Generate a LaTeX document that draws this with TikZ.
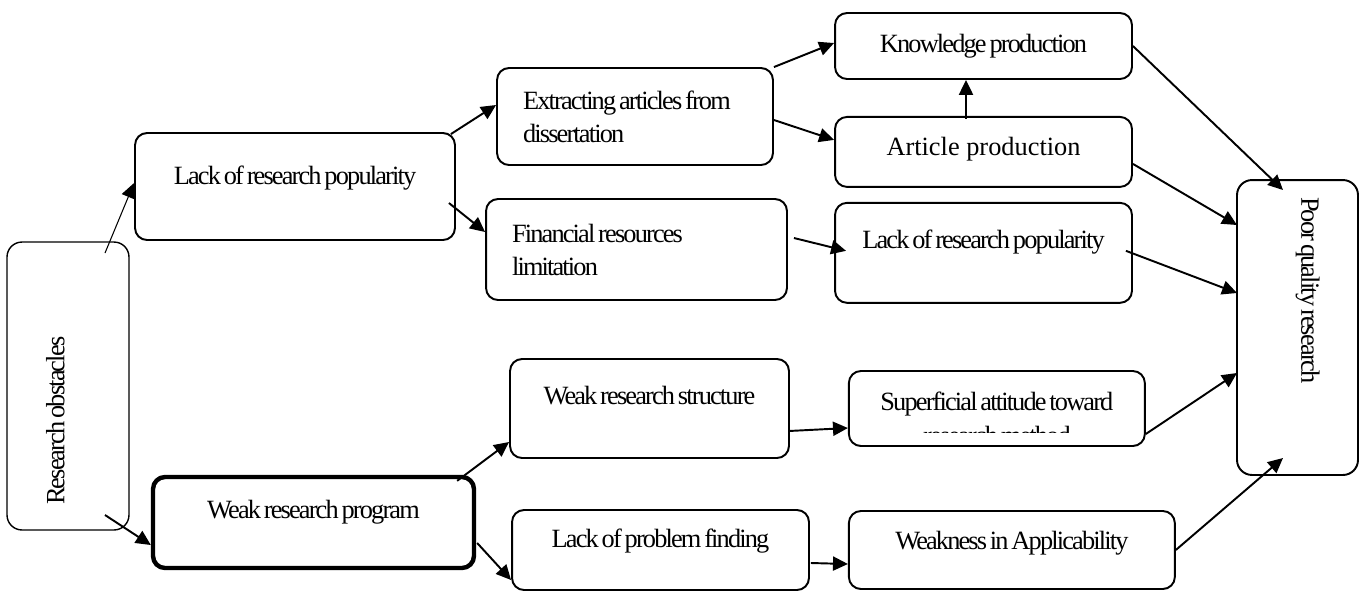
\documentclass[tikz,border=0pt]{standalone}
\usepackage{fontspec}
\setmainfont{Liberation Serif}[LetterSpace=-7, WordSpace=0.6]
\newfontfamily\wideserif{Liberation Serif}
\usetikzlibrary{arrows.meta, positioning}
\tikzset{
  flowblock/.style={
    rectangle, draw, rounded corners=0.24cm, line width=1.1pt,
    inner sep=0pt, align=center, font=\fontsize{15}{18.8}\selectfont
  },
  sideblock/.style={
    flowblock, align=flush left, inner xsep=0.52cm
  },
  tallblock/.style={
    flowblock, align=flush left, rounded corners=0.3cm
  },
  lift/.style={text height=0.36cm, text depth=#1},
  flowarrow/.style={
    line width=1.1pt, -{Triangle[length=8.5pt, width=8pt]}
  },
  thinarrow/.style={
    flowarrow, line width=0.6pt
  }
}

\begin{document}
\begin{tikzpicture}[x=0.02cm, y=-0.02cm]
  \useasboundingbox (0,0) rectangle (1363,593);

  \node[tallblock, rotate=90, line width=0.8pt, minimum width=5.76cm, minimum height=2.44cm, text width=4.76cm, inner xsep=0.5cm, lift=0.51cm] (obst) at (68,386) {Research obstacles};
  \node[flowblock, minimum width=6.4cm, minimum height=2.14cm, lift=0.43cm] (popleft) at (295,186.5) {Lack of research popularity};
  \node[flowblock, line width=2.5pt, minimum width=6.42cm, minimum height=1.82cm, lift=0.51cm] (program) at (313.5,522.5) {Weak research program};

  \node[sideblock, minimum height=1.94cm, text width=4.48cm] (extract) at (635,116.5) {Extracting articles from\\dissertation};
  \node[sideblock, minimum height=2.02cm, text width=4.98cm] (finance) at (636.5,249.5) {Financial resources\\limitation};
  \node[flowblock, minimum width=5.58cm, minimum height=1.98cm, lift=0.51cm] (structure) at (649.5,408.5) {Weak research structure};
  \node[flowblock, minimum width=5.94cm, minimum height=1.6cm, lift=0.47cm] (problem) at (660.5,550) {Lack of problem finding};

  \node[flowblock, minimum width=5.94cm, minimum height=1.32cm, lift=0.11cm] (knowledge) at (983.5,46) {Knowledge production};
  \node[flowblock, below=0.72cm of knowledge, minimum width=5.94cm, minimum height=1.4cm, lift=0.23cm, font=\wideserif\fontsize{15}{18.8}\selectfont] (article) {Article production};
  \node[flowblock, below=0.28cm of article, minimum width=5.94cm, minimum height=2cm, lift=0.55cm] (popright) {Lack of research popularity};
  \node[flowblock, right=1.16cm of structure, minimum width=5.92cm, minimum height=1.5cm, lift=0.29cm] (attitude) {Superficial attitude toward};
  \node[flowblock, right=0.76cm of problem, minimum width=6.52cm, minimum height=1.56cm, lift=0.39cm] (applic) {Weakness in Applicability};

  \node[tallblock, rotate=-90, minimum width=5.9cm, minimum height=2.42cm, text width=5.22cm, inner xsep=0.34cm, lift=0.51cm] (poor) at (1297.5,327.5) {Poor quality research};

  % second line of the attitude box runs out of the frame
  \begin{scope}
    \clip (attitude.north west) rectangle ([shift={(0,24)}]attitude.east);
    \node[font=\fontsize{15}{18.8}\selectfont, inner sep=0pt, lift=0.11cm] (attitudecut) at ([shift={(0,29.5)}]attitude.center) {research method};
  \end{scope}

  \draw[thinarrow] ([shift={(37,-133)}]obst.center) -- ([shift={(0,-3.5)}]popleft.west);
  \draw[flowarrow] ([shift={(37,129)}]obst.center) -- ([shift={(0,22.5)}]program.west);
  \draw[flowarrow] ([shift={(-5,2)}]popleft.north east) -- ([shift={(0,-11.5)}]extract.west);
  \draw[flowarrow] ([shift={(-7,16.5)}]popleft.east) -- ([shift={(0,-17.5)}]finance.west);
  \draw[flowarrow] ([shift={(-19,6)}]program.north east) -- ([shift={(0,33.5)}]structure.west);
  \draw[flowarrow] ([shift={(1,20.5)}]program.east) -- ([shift={(0,30)}]problem.west);
  \draw[flowarrow] (extract.north east) -- ([shift={(0,-3)}]knowledge.west);
  \draw[flowarrow] ([shift={(0,3.5)}]extract.east) -- ([shift={(0,-12)}]article.west);
  \draw[flowarrow] ([shift={(-17.5,3)}]article.north) -- ([shift={(-17.5,0)}]knowledge.south);
  \draw[flowarrow] ([shift={(6,-11.5)}]finance.east) -- ([shift={(12,-2)}]popright.west);
  \draw[flowarrow] (knowledge.east) -- ([shift={(-14.5,-137.5)}]poor.center);
  \draw[flowarrow] ([shift={(0,12)}]article.east) -- ([shift={(-60.5,-102.5)}]poor.center);
  \draw[flowarrow] ([shift={(-7,-2)}]popright.east) -- ([shift={(-60.5,-34.5)}]poor.center);
  \draw[flowarrow] ([shift={(-1,22.5)}]structure.east) -- ([shift={(0,19.5)}]attitude.west);
  \draw[flowarrow] ([shift={(0,25.5)}]attitude.east) -- ([shift={(-60.5,45.5)}]poor.center);
  \draw[flowarrow] ([shift={(1,13)}]problem.east) -- ([shift={(0,14)}]applic.west);
  \draw[flowarrow] (applic.east) -- ([shift={(-14.5,130.5)}]poor.center);
\end{tikzpicture}
\end{document}
